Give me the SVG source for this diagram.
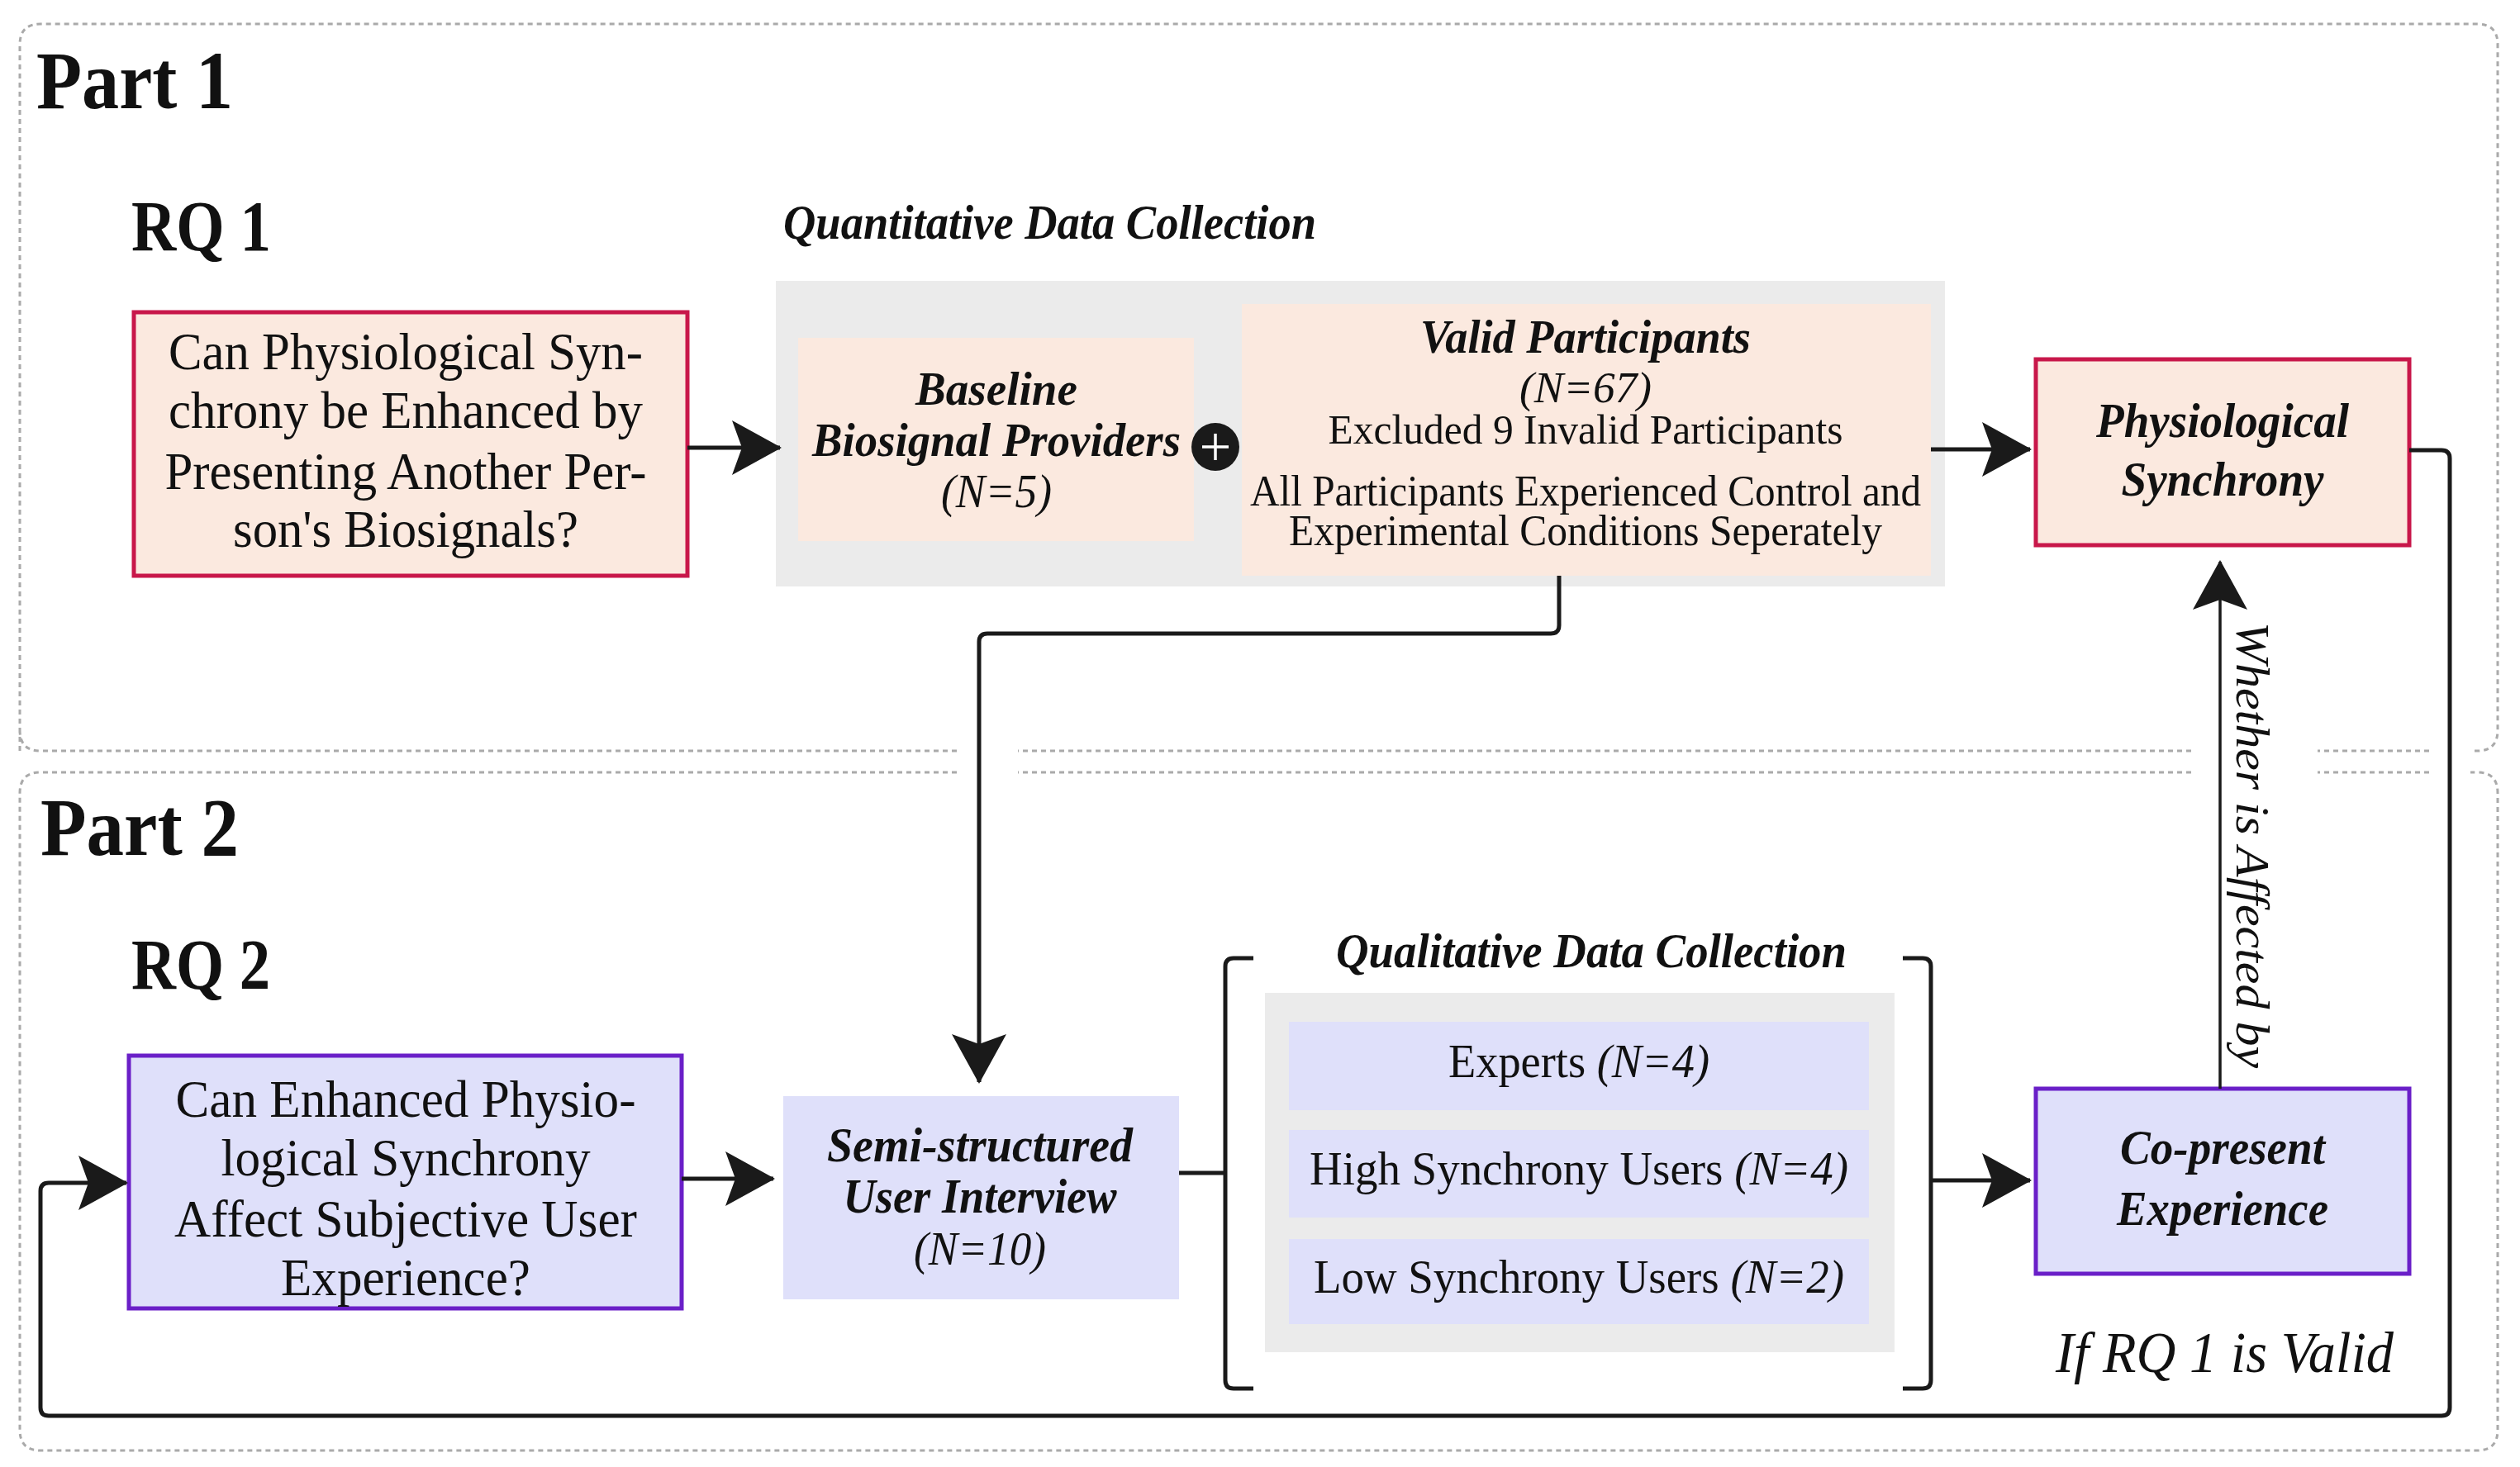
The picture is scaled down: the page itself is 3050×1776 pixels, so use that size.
<svg xmlns="http://www.w3.org/2000/svg" width="3050" height="1776" viewBox="0 0 3050 1776">
<defs>
<style>
text{font-family:"Liberation Serif","Times New Roman",serif;fill:#111;}
.h{font-weight:bold;font-size:100px;}
.rq{font-weight:bold;font-size:86px;}
.bi{font-weight:bold;font-style:italic;}
.it{font-style:italic;}
.c{text-anchor:middle;}
.dash{fill:none;stroke:#aaa;stroke-width:3;stroke-dasharray:6 5;}
.ln{fill:none;stroke:#1a1a1a;stroke-width:5;stroke-linejoin:round;}
.thin{fill:none;stroke:#1a1a1a;stroke-width:3.5;}
.red{fill:#fbe9df;stroke:#c8174a;stroke-width:5;}
.pur{fill:#dfe0fa;stroke:#6a1fc8;stroke-width:5;}
.pk{fill:#fbe9df;}
.lv{fill:#dfe0fa;}
.gr{fill:#ebebeb;}
</style>
<marker id="ah" viewBox="0 0 60 66" refX="58" refY="33" markerWidth="60" markerHeight="66" markerUnits="userSpaceOnUse" orient="auto"><path d="M0,0 L60,33 L0,66 L12,33 Z" fill="#1a1a1a"/></marker>
</defs>

<g id="frames">
<path class="dash" d="M24,909 L24,54 Q24,29 49,29 L2998,29 Q3023,29 3023,54 L3023,884 Q3023,909 2998,909 L2990,909 M2940,909 L2805,909 M2652,909 L1232,909 M1158,909 L49,909 Q24,909 24,884"/>
<path class="dash" d="M1158,935 L49,935 Q24,935 24,960 L24,1731 Q24,1756 49,1756 L2998,1756 Q3023,1756 3023,1731 L3023,960 Q3023,935 2998,935 L2990,935 M2940,935 L2805,935 M2652,935 L1232,935"/>
</g>

<g id="titles">
<text class="h" x="44" y="131" textLength="238" lengthAdjust="spacingAndGlyphs">Part 1</text>
<text class="rq" x="159" y="303" textLength="169" lengthAdjust="spacingAndGlyphs">RQ 1</text>
<text class="h" x="49" y="1035" textLength="240" lengthAdjust="spacingAndGlyphs">Part 2</text>
<text class="rq" x="159" y="1197" textLength="168" lengthAdjust="spacingAndGlyphs">RQ 2</text>
</g>

<g id="q1">
<rect class="red" x="162" y="378" width="670" height="319"/>
<g style="font-size:63px">
<text class="c" x="491" y="447" textLength="574" lengthAdjust="spacingAndGlyphs">Can Physiological Syn-</text>
<text class="c" x="491" y="518" textLength="574" lengthAdjust="spacingAndGlyphs">chrony be Enhanced by</text>
<text class="c" x="491" y="592" textLength="583" lengthAdjust="spacingAndGlyphs">Presenting Another Per-</text>
<text class="c" x="491" y="662" textLength="418" lengthAdjust="spacingAndGlyphs">son's Biosignals?</text>
</g>
</g>

<g id="quant">
<text class="bi" x="948" y="289" style="font-size:60px" textLength="645" lengthAdjust="spacingAndGlyphs">Quantitative Data Collection</text>
<rect class="gr" x="939" y="340" width="1415" height="370"/>
</g>

<g id="baseline">
<rect class="pk" x="966" y="409" width="479" height="246"/>
<text class="bi c" x="1206" y="490" style="font-size:58px" textLength="196" lengthAdjust="spacingAndGlyphs">Baseline</text>
<text class="bi c" x="1206" y="552" style="font-size:58px" textLength="446" lengthAdjust="spacingAndGlyphs">Biosignal Providers</text>
<text class="it c" x="1206" y="614" style="font-size:58px" textLength="134" lengthAdjust="spacingAndGlyphs">(N=5)</text>
</g>

<g id="plus">
<circle cx="1471" cy="541" r="29" fill="#1a1a1a"/>
<path d="M1455,541 H1487 M1471,525 V557" stroke="#fff" stroke-width="3.5"/>
</g>

<g id="valid">
<rect class="pk" x="1503" y="368" width="834" height="329"/>
<text class="bi c" x="1919" y="427" style="font-size:58px" textLength="400" lengthAdjust="spacingAndGlyphs">Valid Participants</text>
<text class="it c" x="1919" y="487" style="font-size:52px" textLength="160" lengthAdjust="spacingAndGlyphs">(N=67)</text>
<text class="c" x="1919" y="537" style="font-size:50px" textLength="623" lengthAdjust="spacingAndGlyphs">Excluded 9 Invalid Participants</text>
<text class="c" x="1919" y="612" style="font-size:52px" textLength="812" lengthAdjust="spacingAndGlyphs">All Participants Experienced Control and</text>
<text class="c" x="1919" y="660" style="font-size:52px" textLength="718" lengthAdjust="spacingAndGlyphs">Experimental Conditions Seperately</text>
</g>

<g id="phys">
<rect class="red" x="2464" y="435" width="452" height="225"/>
<text class="bi c" x="2690" y="529" style="font-size:60px" textLength="306" lengthAdjust="spacingAndGlyphs">Physiological</text>
<text class="bi c" x="2690" y="600" style="font-size:60px" textLength="245" lengthAdjust="spacingAndGlyphs">Synchrony</text>
</g>

<g id="q2">
<rect class="pur" x="156" y="1278" width="669" height="306"/>
<g style="font-size:63px">
<text class="c" x="491" y="1352" textLength="557" lengthAdjust="spacingAndGlyphs">Can Enhanced Physio-</text>
<text class="c" x="491" y="1423" textLength="447" lengthAdjust="spacingAndGlyphs">logical Synchrony</text>
<text class="c" x="491" y="1497" textLength="560" lengthAdjust="spacingAndGlyphs">Affect Subjective User</text>
<text class="c" x="491" y="1568" textLength="302" lengthAdjust="spacingAndGlyphs">Experience?</text>
</g>
</g>

<g id="semi">
<rect class="lv" x="948" y="1327" width="479" height="246"/>
<text class="bi c" x="1186" y="1406" style="font-size:60px" textLength="370" lengthAdjust="spacingAndGlyphs">Semi-structured</text>
<text class="bi c" x="1186" y="1468" style="font-size:60px" textLength="331" lengthAdjust="spacingAndGlyphs">User Interview</text>
<text class="it c" x="1186" y="1531" style="font-size:58px" textLength="160" lengthAdjust="spacingAndGlyphs">(N=10)</text>
</g>

<g id="qual">
<text class="bi c" x="1926" y="1171" style="font-size:60px" textLength="618" lengthAdjust="spacingAndGlyphs">Qualitative Data Collection</text>
<rect class="gr" x="1531" y="1202" width="762" height="435"/>
<rect class="lv" x="1560" y="1237" width="702" height="107"/>
<rect class="lv" x="1560" y="1368" width="702" height="106"/>
<rect class="lv" x="1560" y="1500" width="702" height="103"/>
<text class="c" x="1911" y="1304" style="font-size:58px" textLength="316" lengthAdjust="spacingAndGlyphs">Experts <tspan class="it">(N=4)</tspan></text>
<text class="c" x="1911" y="1434" style="font-size:58px" textLength="652" lengthAdjust="spacingAndGlyphs">High Synchrony Users <tspan class="it">(N=4)</tspan></text>
<text class="c" x="1911" y="1565" style="font-size:58px" textLength="642" lengthAdjust="spacingAndGlyphs">Low Synchrony Users <tspan class="it">(N=2)</tspan></text>
<path class="ln" d="M1517,1160 H1493 Q1483,1160 1483,1170 V1671 Q1483,1681 1493,1681 H1517"/>
<path class="ln" d="M2303,1160 H2327 Q2337,1160 2337,1170 V1671 Q2337,1681 2327,1681 H2303"/>
</g>

<g id="copresent">
<rect class="pur" x="2464" y="1318" width="452" height="224"/>
<text class="bi c" x="2690" y="1409" style="font-size:60px" textLength="248" lengthAdjust="spacingAndGlyphs">Co-present</text>
<text class="bi c" x="2690" y="1483" style="font-size:60px" textLength="256" lengthAdjust="spacingAndGlyphs">Experience</text>
</g>

<g id="labels">
<text class="it" x="0" y="0" transform="translate(2707,753) rotate(90)" style="font-size:56px" textLength="540" lengthAdjust="spacingAndGlyphs">Whether is Affected by</text>
<text class="it" x="2488" y="1661" style="font-size:70px" textLength="409" lengthAdjust="spacingAndGlyphs">If RQ 1 is Valid</text>
</g>

<g id="connectors">
<path class="ln" d="M832,542 H944" marker-end="url(#ah)"/>
<path class="ln" d="M2337,544 H2457" marker-end="url(#ah)"/>
<path class="ln" d="M1887,697 V757 Q1887,767 1877,767 H1195 Q1185,767 1185,777 V1310" marker-end="url(#ah)"/>
<path class="ln" d="M2916,545 H2955 Q2965,545 2965,555 V1704 Q2965,1714 2955,1714 H59 Q49,1714 49,1704 V1442 Q49,1432 59,1432 H153" marker-end="url(#ah)"/>
<path class="ln" d="M825,1427 H936" marker-end="url(#ah)"/>
<path class="ln" d="M1427,1420 H1483"/>
<path class="ln" d="M2337,1429 H2457" marker-end="url(#ah)"/>
<path class="thin" d="M2687,1318 V680" marker-end="url(#ah)"/>
</g>
</svg>
